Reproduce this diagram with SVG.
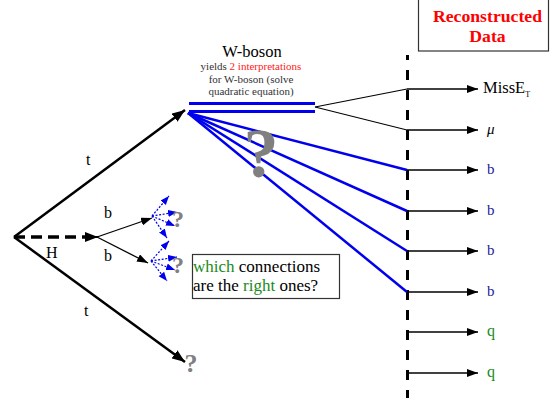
<svg xmlns="http://www.w3.org/2000/svg" width="550" height="398" viewBox="0 0 550 398" font-family="'Liberation Serif', 'DejaVu Serif', serif">
<style>
text{font-family:"Liberation Serif","DejaVu Serif",serif;}
.blk{stroke:#000;fill:none;}
.blue{stroke:#0000ee;fill:none;}
.q{fill:#808080;font-weight:bold;text-anchor:middle;}
.b{fill:#1a1a99;font-size:15px;}
.g{fill:#1a8a1a;}
</style>
<defs>
<marker id="ah" markerUnits="userSpaceOnUse" markerWidth="14" markerHeight="10" refX="13" refY="5" orient="auto"><path d="M0,0 L13,5 L0,10 z" fill="#000"/></marker>
<marker id="ahs" markerUnits="userSpaceOnUse" markerWidth="12" markerHeight="8" refX="11" refY="4" orient="auto"><path d="M0,0 L11,4 L0,8 z" fill="#000"/></marker>
<marker id="ahb" markerUnits="userSpaceOnUse" markerWidth="10" markerHeight="8" refX="9" refY="3.5" orient="auto"><path d="M0,0 L9,3.5 L0,7 z" fill="#0000ee"/></marker>
</defs>
<rect width="550" height="398" fill="#fff"/>

<g id="reconstructed">
<rect x="418.5" y="-2" width="130" height="53" fill="#fff" stroke="#333" stroke-width="1.2"/>
<text x="487.5" y="22" font-size="17.7" font-weight="bold" fill="#ff0000" text-anchor="middle">Reconstructed</text>
<text x="487.5" y="42" font-size="17.7" font-weight="bold" fill="#ff0000" text-anchor="middle">Data</text>
</g>

<g id="divider">
<line x1="407.5" y1="55" x2="407.5" y2="398" stroke="#000" stroke-width="3" stroke-dasharray="10,10" stroke-dashoffset="5"/>
</g>

<g id="connectors">
<line class="blk" x1="14" y1="237" x2="185" y2="110" stroke-width="2.5" marker-end="url(#ah)"/>
<line class="blk" x1="14" y1="237" x2="185" y2="362" stroke-width="2.5" marker-end="url(#ah)"/>
<line class="blk" x1="14" y1="237" x2="86" y2="237" stroke-width="3.5" stroke-dasharray="11,6"/>
<line class="blk" x1="84" y1="237" x2="98" y2="237" stroke-width="2" marker-end="url(#ah)"/>
<line class="blk" x1="97" y1="237" x2="152" y2="218" stroke-width="1.3" marker-end="url(#ahs)"/>
<line class="blk" x1="97" y1="237" x2="148" y2="263" stroke-width="1.3" marker-end="url(#ahs)"/>
<g stroke-dasharray="2,1.6" stroke-width="1.2">
<line class="blue" x1="152" y1="216" x2="169" y2="196" marker-end="url(#ahb)"/>
<line class="blue" x1="152" y1="216" x2="177" y2="212" marker-end="url(#ahb)"/>
<line class="blue" x1="152" y1="216" x2="175" y2="226" marker-end="url(#ahb)"/>
<line class="blue" x1="152" y1="216" x2="167" y2="238" marker-end="url(#ahb)"/>
<line class="blue" x1="151" y1="261" x2="169" y2="241" marker-end="url(#ahb)"/>
<line class="blue" x1="151" y1="261" x2="177" y2="257" marker-end="url(#ahb)"/>
<line class="blue" x1="151" y1="261" x2="175" y2="270" marker-end="url(#ahb)"/>
<line class="blue" x1="151" y1="261" x2="167" y2="281" marker-end="url(#ahb)"/>
</g>
<line class="blue" x1="189" y1="103.5" x2="315" y2="103.5" stroke-width="3"/>
<line class="blue" x1="189" y1="111.5" x2="315" y2="111.5" stroke-width="3"/>
<line class="blk" x1="315" y1="107" x2="407" y2="89" stroke-width="1.2"/>
<line class="blk" x1="315" y1="107" x2="407" y2="130" stroke-width="1.2"/>
<g stroke-width="2.5">
<line class="blue" x1="188" y1="113" x2="407" y2="170"/>
<line class="blue" x1="188" y1="113" x2="407" y2="211"/>
<line class="blue" x1="188" y1="113" x2="407" y2="251"/>
<line class="blue" x1="188" y1="113" x2="407" y2="292"/>
</g>
<g stroke-width="1.5">
<line class="blk" x1="407" y1="89" x2="478" y2="89" marker-end="url(#ahs)"/>
<line class="blk" x1="407" y1="130" x2="478" y2="130" marker-end="url(#ahs)"/>
<line class="blk" x1="407" y1="170" x2="478" y2="170" marker-end="url(#ahs)"/>
<line class="blk" x1="407" y1="211" x2="478" y2="211" marker-end="url(#ahs)"/>
<line class="blk" x1="407" y1="251" x2="478" y2="251" marker-end="url(#ahs)"/>
<line class="blk" x1="407" y1="292" x2="478" y2="292" marker-end="url(#ahs)"/>
<line class="blk" x1="407" y1="332" x2="478" y2="332" marker-end="url(#ahs)"/>
<line class="blk" x1="407" y1="373" x2="478" y2="373" marker-end="url(#ahs)"/>
</g>
</g>

<g id="labels">
<text x="86" y="165" font-size="16">t</text>
<text x="84" y="316" font-size="16">t</text>
<text x="46" y="258" font-size="16">H</text>
<text x="104" y="218" font-size="16">b</text>
<text x="104" y="261" font-size="16">b</text>
</g>

<g id="w-boson">
<text x="252" y="57" font-size="16.5" text-anchor="middle">W-boson</text>
<text x="251" y="70" font-size="11" text-anchor="middle" fill="#333">yields <tspan fill="#ff2020">2 interpretations</tspan></text>
<text x="251" y="83" font-size="11" text-anchor="middle" fill="#333">for W-boson (solve</text>
<text x="251" y="95" font-size="11" text-anchor="middle" fill="#333">quadratic equation)</text>
</g>

<g id="question-marks">
<text class="q" x="261" y="177" font-size="70">?</text>
<text class="q" x="178" y="227" font-size="24">?</text>
<text class="q" x="178" y="273" font-size="24">?</text>
<text class="q" x="191" y="372" font-size="26">?</text>
</g>

<g id="which-box">
<rect x="192.5" y="254.5" width="147" height="44" fill="#fff" stroke="#333" stroke-width="1.2"/>
<text x="193" y="272" font-size="17"><tspan class="g">which</tspan> connections</text>
<text x="193" y="291" font-size="17">are the <tspan class="g">right</tspan> ones?</text>
</g>

<g id="outputs">
<text x="483" y="93" font-size="16.5">MissE<tspan font-size="8" dy="4">T</tspan></text>
<text x="487" y="134" font-size="15" font-style="italic">μ</text>
<text class="b" x="487" y="174">b</text>
<text class="b" x="487" y="215">b</text>
<text class="b" x="487" y="255">b</text>
<text class="b" x="487" y="296">b</text>
<text x="487" y="336" font-size="16" class="g">q</text>
<text x="487" y="377" font-size="16" class="g">q</text>
</g>
</svg>
